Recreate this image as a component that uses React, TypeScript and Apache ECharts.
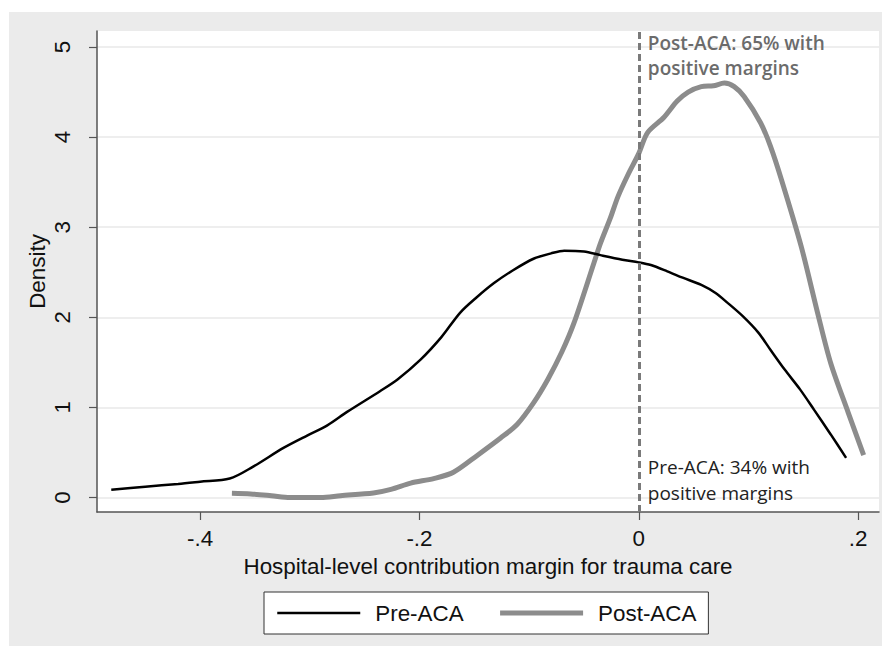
import React, { useEffect, useRef } from "react";
import * as echarts from "echarts";

const preX = [-0.481, -0.45, -0.42, -0.40, -0.373, -0.352, -0.324, -0.302, -0.284, -0.266, -0.236, -0.22, -0.199, -0.18, -0.163, -0.148, -0.132, -0.115, -0.096, -0.08, -0.068, -0.05, -0.035, -0.015, 0, 0.011, 0.026, 0.04, 0.057, 0.07, 0.081, 0.095, 0.109, 0.12, 0.133, 0.147, 0.16, 0.175, 0.189];
const preY = [0.087, 0.12, 0.15, 0.175, 0.21, 0.34, 0.55, 0.69, 0.80, 0.95, 1.18, 1.31, 1.53, 1.78, 2.05, 2.22, 2.38, 2.52, 2.65, 2.71, 2.74, 2.73, 2.69, 2.64, 2.61, 2.58, 2.51, 2.44, 2.36, 2.27, 2.16, 2.01, 1.83, 1.64, 1.42, 1.2, 0.97, 0.7, 0.44];

const postX = [-0.371, -0.354, -0.335, -0.318, -0.29, -0.272, -0.242, -0.226, -0.208, -0.187, -0.169, -0.147, -0.126, -0.111, -0.096, -0.083, -0.07, -0.059, -0.041, -0.035, -0.026, -0.019, -0.01, 0, 0.008, 0.023, 0.035, 0.045, 0.057, 0.068, 0.078, 0.087, 0.096, 0.111, 0.12, 0.13, 0.148, 0.163, 0.175, 0.191, 0.205];
const postY = [0.047, 0.04, 0.02, 0, 0, 0.02, 0.05, 0.09, 0.16, 0.21, 0.28, 0.47, 0.66, 0.81, 1.05, 1.31, 1.62, 1.94, 2.6, 2.82, 3.1, 3.34, 3.58, 3.82, 4.05, 4.22, 4.4, 4.5, 4.56, 4.57, 4.6, 4.56, 4.45, 4.16, 3.9, 3.53, 2.79, 2.05, 1.49, 0.94, 0.47];

const xTicks = [-0.4, -0.2, 0, 0.2];
const yTicks = [0, 1, 2, 3, 4, 5];
const seriesNames = ["Pre-ACA", "Post-ACA"];
const cutoffX = 0;
const postNote = { x: 0, y: 4.91, text: "Post-ACA: 65% with\npositive margins" };
const preNote = { x: 0, y: 0.19, text: "Pre-ACA: 34% with\npositive margins" };

const AX_FONT = "'Liberation Sans', Arial, Helvetica, sans-serif";
const NOTE_FONT = "'Open Sans', 'Noto Sans', sans-serif";
const FS = 22.4;

function fmtX(v: number) {
  if (v === 0) return "0";
  const s = String(Math.abs(v)).replace(/^0/, "");
  return (v < 0 ? "-" : "") + s;
}

export default function App() {
  const ref = useRef<HTMLDivElement>(null);
  useEffect(() => {
    if (!ref.current) return;
    const chart = echarts.init(ref.current, null, { renderer: "svg" });
    const preData = preX.map((x, i) => [x, preY[i]]);
    const postData = postX.map((x, i) => [x, postY[i]]);
    chart.setOption({
      animation: false,
      backgroundColor: "#ebebeb",
      grid: {
        left: 88,
        right: 3,
        top: 19,
        bottom: 134,
        show: true,
        backgroundColor: "#ffffff",
        borderWidth: 0,
        containLabel: false,
      },
      xAxis: {
        type: "value",
        min: -0.494,
        max: 0.219,
        name: "Hospital-level contribution margin for trauma care",
        nameLocation: "middle",
        nameGap: 43,
        nameMoveOverlap: false,
        nameTextStyle: { fontFamily: AX_FONT, fontSize: FS, color: "#111" },
        axisLine: { show: true, onZero: false, lineStyle: { color: "#555", width: 1.5 } },
        axisTick: { show: true, length: 8, customValues: xTicks, lineStyle: { color: "#555", width: 1.2 } },
        axisLabel: { customValues: xTicks, formatter: fmtX, margin: 15, fontFamily: AX_FONT, fontSize: FS, color: "#111" },
        splitLine: { show: false },
      },
      yAxis: {
        type: "value",
        min: -0.161,
        max: 5.178,
        name: "Density",
        nameLocation: "middle",
        nameRotate: 90,
        nameGap: 49,
        nameMoveOverlap: false,
        nameTextStyle: { fontFamily: AX_FONT, fontSize: FS, color: "#111", align: "center", verticalAlign: "bottom" },
        axisLine: { show: true, onZero: false, lineStyle: { color: "#555", width: 1.5 } },
        axisTick: { show: true, length: 8, customValues: yTicks, lineStyle: { color: "#555", width: 1.2 } },
        axisLabel: {
          customValues: yTicks,
          rotate: 90,
          margin: 14,
          align: "center",
          verticalAlign: "bottom",
          lineHeight: 22,
          padding: [0, 0, 10, 0],
          fontFamily: AX_FONT,
          fontSize: FS,
          color: "#111",
        },
        splitLine: { show: true, lineStyle: { color: "#e9e9e9", width: 1.5 } },
      },
      legend: {
        left: 255,
        top: 580,
        orient: "horizontal",
        padding: [10, 12, 10, 12],
        itemGap: 34,
        itemWidth: 83,
        itemHeight: 22,
        backgroundColor: "#ffffff",
        borderColor: "#333",
        borderWidth: 1,
        itemStyle: { opacity: 0 },
        textStyle: { fontFamily: AX_FONT, fontSize: FS, color: "#111", padding: [0, 0, 0, 10] },
        data: [
          { name: seriesNames[0], lineStyle: { width: 2.5, color: "#000" } },
          { name: seriesNames[1], lineStyle: { width: 5, color: "#8c8c8c" } },
        ],
      },
      series: [
        {
          name: seriesNames[0],
          type: "line",
          data: preData,
          symbol: "none",
          showSymbol: false,
          smooth: 0.3,
          lineStyle: { color: "#000", width: 2.5 },
          itemStyle: { color: "#000" },
          z: 3,
          markPoint: {
            symbol: "circle",
            symbolSize: 0,
            silent: true,
            data: [
              {
                coord: [postNote.x, postNote.y],
                label: {
                  show: true,
                  position: "right",
                  distance: 9,
                  formatter: postNote.text,
                  fontFamily: NOTE_FONT,
                  fontWeight: 600,
                  fontSize: 19,
                  lineHeight: 25,
                  color: "#6b6b6b",
                  align: "left",
                },
              },
              {
                coord: [preNote.x, preNote.y],
                label: {
                  show: true,
                  position: "right",
                  distance: 9,
                  formatter: preNote.text,
                  fontFamily: NOTE_FONT,
                  fontWeight: 400,
                  fontSize: 19,
                  lineHeight: 26,
                  color: "#222",
                  align: "left",
                },
              },
            ],
          },
        },
        {
          name: seriesNames[1],
          type: "line",
          data: postData,
          symbol: "none",
          showSymbol: false,
          smooth: 0.3,
          lineStyle: { color: "#8c8c8c", width: 5 },
          itemStyle: { color: "#8c8c8c" },
          z: 2,
          markLine: {
            symbol: "none",
            silent: true,
            label: { show: false },
            lineStyle: { type: [7, 4], color: "#7a7a7a", width: 3 },
            data: [{ xAxis: cutoffX }],
          },
        },
      ],
    });
    return () => chart.dispose();
  }, []);
  return (
    <div
      ref={ref}
      style={{ position: "absolute", left: 9, top: 12, width: 873, height: 634 }}
    />
  );
}
